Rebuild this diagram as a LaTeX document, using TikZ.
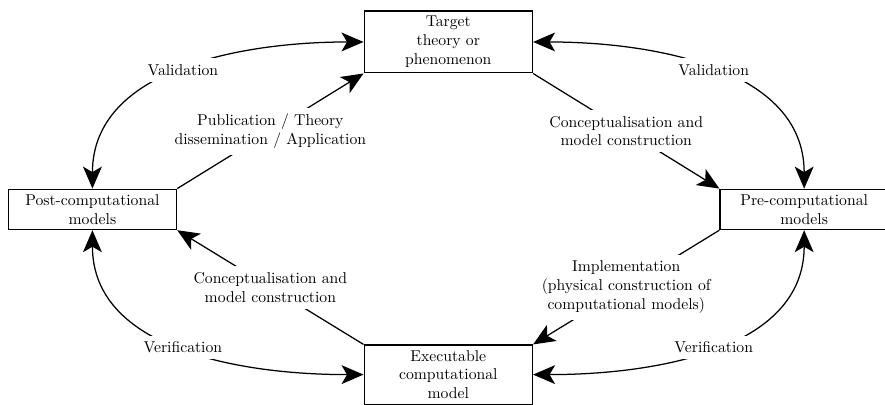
\documentclass[tikz,border=0pt]{standalone}
\usepackage{amsmath}
\usetikzlibrary{arrows.meta}
\tikzset{
	modelbox/.style={draw,line width=0.8pt,minimum width=3.77cm,align=center},
	flowlabel/.style={fill=white,inner sep=4pt,align=center},
	headtip/.tip={Stealth[length=14pt,width=12pt,inset=3.5pt]},
	flowarrow/.style={line width=0.8pt,-headtip},
	botharrow/.style={line width=0.8pt,headtip-headtip}
}

\begin{document}
\begin{tikzpicture}
		\useasboundingbox(0,0)rectangle(19.82,9.07);
		\node[modelbox](target)at(10.04,8.13){Target\\theory or\\phenomenon};
		\node[modelbox](post)at(2.07,4.38){Post-computational\\models};
		\node[modelbox](pre)at(18.01,4.38){Pre-computational\\models};
		\node[modelbox](exec)at(10.04,0.68){Executable\\computational\\model};
		\draw[botharrow](post.north)to[out=90,in=180]node[flowlabel]{Validation}(target.west);
		\draw[botharrow](pre.north)to[out=90,in=0]node[flowlabel]{Validation}(target.east);
		\draw[botharrow](post.south)to[out=-90,in=180]node[flowlabel]{Verification}(exec.west);
		\draw[botharrow](pre.south)to[out=-90,in=0]node[flowlabel]{Verification}(exec.east);
		\draw[flowarrow](post.north east)--node[flowlabel]{Publication / Theory\\dissemination / Application}(target.south west);
		\draw[flowarrow](target.south east)--node[flowlabel]{Conceptualisation and\\model construction}(pre.north west);
		\draw[flowarrow](exec.north west)--node[flowlabel]{Conceptualisation and\\model construction}(post.south east);
		\draw[flowarrow](pre.south west)--node[flowlabel]{Implementation\\(physical construction of\\computational models)}(exec.north east);
	\end{tikzpicture}
\end{document}
